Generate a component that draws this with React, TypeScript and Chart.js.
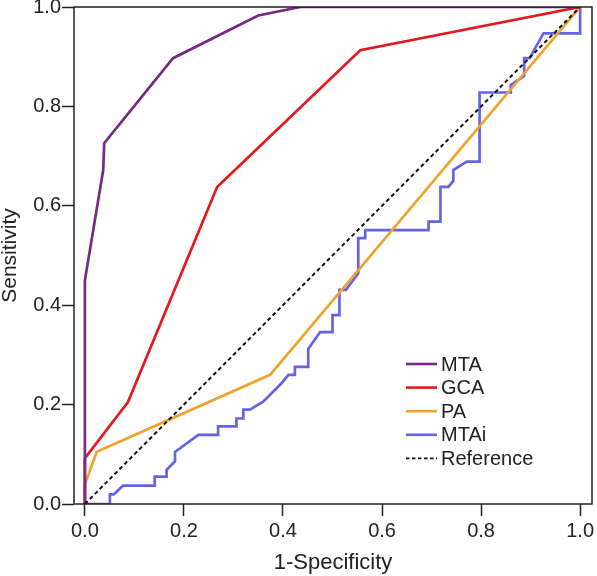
import React, { useEffect, useRef } from "react";
import { Chart, registerables } from "chart.js";

Chart.register(...registerables);

// ---- data ----
const seriesNames = ["MTA", "GCA", "PA", "MTAi", "Reference"];

const mtaX = [0, 0, 0.037, 0.039, 0.178, 0.35, 0.435, 1];
const mtaY = [0, 0.45, 0.672, 0.726, 0.897, 0.983, 1, 1];

const gcaX = [0, 0, 0.087, 0.267, 0.556, 1];
const gcaY = [0, 0.092, 0.205, 0.638, 0.913, 1];

const paX = [0, 0, 0.024, 0.374, 1];
const paY = [0, 0.04, 0.105, 0.26, 1];

const mtaiX = [
  0, 0.0505, 0.0505, 0.0586, 0.077, 0.141, 0.141, 0.165, 0.165, 0.182, 0.182,
  0.229, 0.269, 0.269, 0.306, 0.306, 0.32, 0.32, 0.333, 0.36, 0.397, 0.411,
  0.424, 0.424, 0.451, 0.451, 0.475, 0.5, 0.5, 0.514, 0.514, 0.527, 0.552,
  0.552, 0.566, 0.566, 0.694, 0.694, 0.718, 0.718, 0.734, 0.744, 0.744, 0.771,
  0.797, 0.797, 0.86, 0.86, 0.887, 0.887, 0.898, 0.926, 1, 1,
];
const mtaiY = [
  0, 0, 0.0195, 0.0195, 0.037, 0.037, 0.055, 0.055, 0.069, 0.086, 0.105,
  0.139, 0.139, 0.156, 0.156, 0.172, 0.172, 0.19, 0.19, 0.206, 0.243, 0.26,
  0.26, 0.276, 0.276, 0.312, 0.346, 0.346, 0.38, 0.38, 0.431, 0.431, 0.464,
  0.535, 0.535, 0.551, 0.551, 0.568, 0.568, 0.638, 0.638, 0.65, 0.672, 0.689,
  0.689, 0.828, 0.828, 0.843, 0.861, 0.897, 0.897, 0.947, 0.947, 1,
];

const refX = [0, 1];
const refY = [0, 1];

const xTicks = [0, 0.2, 0.4, 0.6, 0.8, 1.0];
const yTicks = [0, 0.2, 0.4, 0.6, 0.8, 1.0];

const colors = ["#762a83", "#e3191c", "#f0a22e", "#6464e6", "#111111"];

const FONT = "'Liberation Sans', Arial, Helvetica, sans-serif";
const INK = "#222222";

function pts(xs: number[], ys: number[]) {
  return xs.map((x, i) => ({ x, y: ys[i] }));
}

const framePlugin = {
  id: "frame",
  afterDatasetsDraw(chart: any) {
    const { ctx, chartArea: a } = chart;
    ctx.save();
    ctx.strokeStyle = INK;
    ctx.lineWidth = 1.5;
    ctx.strokeRect(a.left, a.top, a.right - a.left, a.bottom - a.top);
    ctx.restore();
  },
};

const legendPlugin = {
  id: "innerLegend",
  afterDraw(chart: any) {
    const { ctx, chartArea: a } = chart;
    const x0 = a.left + 332;
    const y0 = a.top + 357;
    const step = 23.6;
    ctx.save();
    ctx.font = `20px ${FONT}`;
    ctx.textBaseline = "middle";
    ctx.textAlign = "left";
    chart.data.datasets.forEach((ds: any, i: number) => {
      const y = y0 + i * step;
      ctx.beginPath();
      ctx.strokeStyle = ds.borderColor;
      ctx.lineWidth = ds.borderDash && ds.borderDash.length ? 1.6 : 2.6;
      ctx.setLineDash(ds.borderDash && ds.borderDash.length ? [3.5, 2.5] : []);
      ctx.moveTo(x0, y);
      ctx.lineTo(x0 + 31, y);
      ctx.stroke();
      ctx.setLineDash([]);
      ctx.fillStyle = INK;
      ctx.fillText(ds.label, x0 + 35, y + 1);
    });
    ctx.restore();
  },
};

export default function App() {
  const ref = useRef<HTMLCanvasElement>(null);
  useEffect(() => {
    if (!ref.current) return;
    const series = [
      pts(mtaX, mtaY),
      pts(gcaX, gcaY),
      pts(paX, paY),
      pts(mtaiX, mtaiY),
      pts(refX, refY),
    ];
    const orders = [1, 2, 3, 4, 0];
    const chart = new Chart(ref.current, {
      type: "line",
      data: {
        datasets: series.map((d, i) => ({
          label: seriesNames[i],
          data: d,
          borderColor: colors[i],
          backgroundColor: colors[i],
          borderWidth: i === 4 ? 2 : 2.7,
          borderDash: i === 4 ? [4, 3] : [],
          pointRadius: 0,
          tension: 0,
          fill: false,
          order: orders[i],
        })),
      },
      options: {
        responsive: false,
        animation: false,
        parsing: true,
        layout: { padding: { top: 7, right: 5, left: 0, bottom: 0 } },
        plugins: {
          legend: { display: false },
          tooltip: { enabled: false },
        },
        scales: {
          x: {
            type: "linear",
            min: -0.022,
            max: 1.024,
            afterBuildTicks: (s: any) => {
              s.ticks = xTicks.map((v) => ({ value: v }));
            },
            afterFit: (s: any) => {
              s.height = 72;
              s.paddingLeft = 0;
              s.paddingRight = 0;
            },
            ticks: {
              autoSkip: false,
              maxRotation: 0,
              padding: 3,
              color: INK,
              font: { family: FONT, size: 20 },
              callback: (v: any) => Number(v).toFixed(1),
            },
            grid: {
              drawOnChartArea: false,
              drawTicks: true,
              tickLength: 12,
              tickColor: INK,
              tickWidth: 1.5,
            },
            border: { display: false },
            title: {
              display: true,
              text: "1-Specificity",
              color: INK,
              font: { family: FONT, size: 22, lineHeight: 1.2 },
              padding: { top: 0, bottom: 0 },
            },
          },
          y: {
            type: "linear",
            min: 0,
            max: 1,
            afterBuildTicks: (s: any) => {
              s.ticks = yTicks.map((v) => ({ value: v }));
            },
            afterFit: (s: any) => {
              s.width = 74;
              s.paddingTop = 0;
              s.paddingBottom = 0;
            },
            ticks: {
              autoSkip: false,
              padding: 1,
              color: INK,
              font: { family: FONT, size: 20 },
              callback: (v: any) => Number(v).toFixed(1),
            },
            grid: {
              drawOnChartArea: false,
              drawTicks: true,
              tickLength: 12,
              tickColor: INK,
              tickWidth: 1.5,
            },
            border: { display: false },
            title: {
              display: true,
              text: "Sensitivity",
              color: INK,
              font: { family: FONT, size: 21, lineHeight: 1.0 },
              padding: { top: 0, bottom: 0 },
            },
          },
        },
      },
      plugins: [framePlugin, legendPlugin],
    } as any);
    return () => chart.destroy();
  }, []);
  return (
    <div style={{ position: "fixed", left: 0, top: 0, width: 597, height: 576, background: "#fff" }}>
      <canvas ref={ref} width={597} height={576} style={{ display: "block" }} />
    </div>
  );
}
